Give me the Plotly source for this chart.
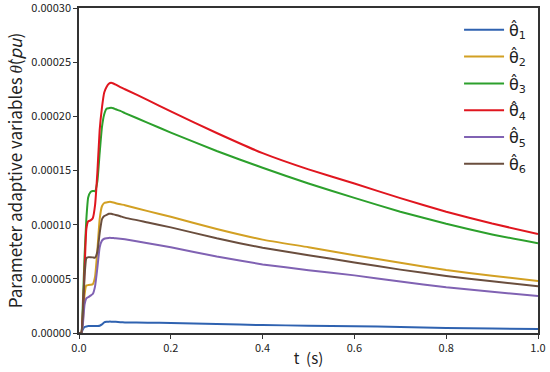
import plotly.graph_objects as go

t = [0, 0.005, 0.008, 0.012, 0.016, 0.02, 0.025, 0.03, 0.035, 0.04, 0.045, 0.05, 0.055,
     0.06, 0.065, 0.07, 0.075, 0.08, 0.09, 0.1, 0.15, 0.2, 0.3, 0.4, 0.5, 0.6, 0.7, 0.8, 0.9, 1.0]

theta1 = [0, 0, 3.0e-6, 5.5e-6, 6.0e-6, 6.4e-6, 6.4e-6, 6.4e-6, 6.4e-6, 6.5e-6, 6.7e-6, 8.0e-6, 9.8e-6,
          10.3e-6, 10.5e-6, 10.5e-6, 10.4e-6, 10.3e-6, 10.0e-6, 9.8e-6, 9.5e-6, 9.2e-6, 8.3e-6, 7.3e-6,
          6.8e-6, 6.3e-6, 5.5e-6, 4.7e-6, 4.2e-6, 3.7e-6]
theta2 = [0, 0, 8e-6, 35e-6, 44e-6, 44.2e-6, 44.5e-6, 45e-6, 52e-6, 76e-6, 105e-6, 117e-6, 120e-6,
          120.5e-6, 121e-6, 121e-6, 120.5e-6, 119.8e-6, 118.8e-6, 118e-6, 112.5e-6, 107.3e-6, 96e-6,
          86.2e-6, 79.2e-6, 71.8e-6, 64.8e-6, 58.2e-6, 52.8e-6, 48e-6]
theta3 = [0, 0, 23e-6, 70e-6, 105e-6, 125e-6, 130e-6, 131e-6, 131e-6, 140e-6, 166e-6, 190e-6, 202e-6,
          207e-6, 207.5e-6, 208e-6, 207.5e-6, 206.5e-6, 205e-6, 203e-6, 194e-6, 185e-6, 168e-6,
          152.5e-6, 138e-6, 124.7e-6, 112e-6, 100.8e-6, 91e-6, 82.8e-6]
theta4 = [0, 0, 15e-6, 57e-6, 96e-6, 103e-6, 104e-6, 106e-6, 118e-6, 148e-6, 187e-6, 208e-6, 222e-6,
          227e-6, 230e-6, 231e-6, 230.3e-6, 229.3e-6, 227e-6, 225e-6, 215e-6, 204.5e-6, 184.6e-6,
          166e-6, 151e-6, 138e-6, 124.5e-6, 112e-6, 101e-6, 91.4e-6]
theta5 = [0, 0, 6e-6, 26e-6, 32e-6, 33e-6, 34.5e-6, 36e-6, 43e-6, 60e-6, 79e-6, 85.3e-6, 87e-6,
          87.5e-6, 87.8e-6, 87.8e-6, 87.6e-6, 87.4e-6, 87e-6, 86.5e-6, 82.8e-6, 79.1e-6, 70.6e-6,
          63.3e-6, 58e-6, 53.2e-6, 47.5e-6, 42.2e-6, 38e-6, 34.2e-6]
theta6 = [0, 0, 14e-6, 52e-6, 69e-6, 70e-6, 70e-6, 69.8e-6, 69.5e-6, 75e-6, 92e-6, 105e-6, 108e-6,
          109e-6, 110e-6, 110e-6, 109.5e-6, 109e-6, 107.8e-6, 106.5e-6, 102e-6, 97.5e-6, 87.4e-6,
          78.6e-6, 71.8e-6, 65.1e-6, 58.5e-6, 52.7e-6, 47.7e-6, 43.1e-6]

names = ["θ̂<sub>1</sub>", "θ̂<sub>2</sub>", "θ̂<sub>3</sub>", "θ̂<sub>4</sub>", "θ̂<sub>5</sub>", "θ̂<sub>6</sub>"]
colors = ["#2f62b0", "#d2a023", "#2ca02c", "#e0161f", "#8062b3", "#6a4e3e"]
series = [theta1, theta2, theta3, theta4, theta5, theta6]

y_ticks = [0, 0.00005, 0.0001, 0.00015, 0.0002, 0.00025, 0.0003]
y_labels = ["0.00000", "0.00005", "0.00010", "0.00015", "0.00020", "0.00025", "0.00030"]
x_ticks = [0.0, 0.2, 0.4, 0.6, 0.8, 1.0]
x_labels = ["0.0", "0.2", "0.4", "0.6", "0.8", "1.0"]

fig = go.Figure()
for i, (name, col, ys) in enumerate(zip(names, colors, series)):
    fig.add_trace(go.Scatter(x=t, y=ys, mode="lines", name=name, legendgroup=f"g{i}",
                             line=dict(color=col, width=2, shape="spline", smoothing=0.4)))

axis_common = dict(showline=True, linecolor="#333333", linewidth=1.5, mirror=True,
                   showgrid=False, zeroline=False, ticks="outside", ticklen=4,
                   tickwidth=1, tickcolor="#333333", automargin=False,
                   ticklabeloverflow="allow",
                   tickfont=dict(family="Noto Sans CJK SC", size=11, color="#222222"))

fig.update_layout(
    width=550, height=372,
    margin=dict(l=79, r=12, t=8, b=39),
    paper_bgcolor="white", plot_bgcolor="white",
    font=dict(family="Noto Sans CJK SC", color="#222222"),
    xaxis=dict(range=[0, 1.0000001], tickvals=x_ticks, ticktext=x_labels,
               title=dict(text="t  (s)", font=dict(size=15), standoff=0), **axis_common),
    yaxis=dict(range=[0, 0.00030000001], tickvals=y_ticks, ticktext=y_labels,
               title=dict(text="Parameter adaptive variables <i>θ̂</i>(<i>pu</i>)",
                          font=dict(size=17), standoff=4), **axis_common),
    legend=dict(x=0.828, y=0.985, xanchor="left", yanchor="top",
                bgcolor="rgba(0,0,0,0)", font=dict(size=16, family="DejaVu Sans"),
                itemwidth=40, tracegroupgap=3),
    showlegend=True,
)

fig.write_html("out.html", config={"displayModeBar": False},
               post_script="document.body.style.margin='0';")
